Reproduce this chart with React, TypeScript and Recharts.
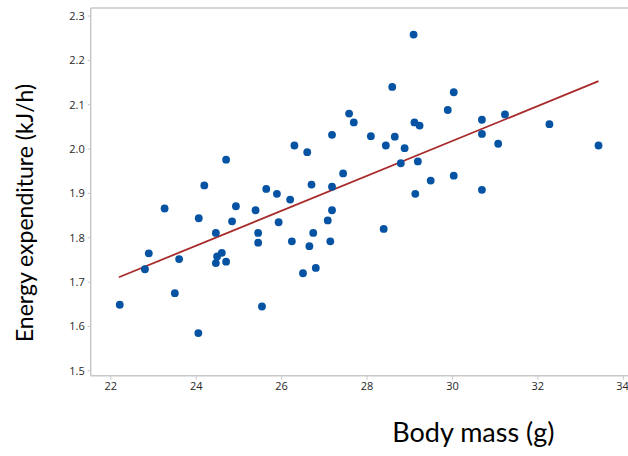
import React from 'react';
import { ScatterChart, Scatter, XAxis, YAxis, ReferenceLine } from 'recharts';

const bodyMass: number[] = [
  22.21, 22.80, 22.89, 23.26, 23.60, 23.50, 24.19, 24.06, 24.05, 24.46,
  24.49, 24.60, 24.46, 24.70, 24.84, 24.93, 24.70, 25.39, 25.45, 25.45,
  25.54, 25.64, 25.89, 25.93, 26.20, 26.24, 26.30, 26.50, 26.60, 26.65,
  26.70, 26.74, 26.80, 27.08, 27.14, 27.18, 27.18, 27.18, 27.44, 27.58,
  27.69, 28.09, 28.39, 28.44, 28.59, 28.65, 28.79, 28.88, 29.09, 29.11,
  29.23, 29.19, 29.13, 29.49, 29.89, 30.03, 30.03, 30.69, 30.69, 30.69,
  31.07, 31.23, 32.27, 33.42,
];
const energy: number[] = [
  1.649, 1.729, 1.765, 1.866, 1.752, 1.675, 1.918, 1.844, 1.585, 1.811,
  1.758, 1.766, 1.743, 1.746, 1.837, 1.871, 1.976, 1.862, 1.811, 1.789,
  1.645, 1.910, 1.899, 1.835, 1.886, 1.792, 2.008, 1.720, 1.993, 1.781,
  1.920, 1.811, 1.732, 1.839, 1.792, 2.032, 1.915, 1.862, 1.945, 2.080,
  2.060, 2.029, 1.820, 2.008, 2.140, 2.028, 1.968, 2.002, 2.258, 2.060,
  2.053, 1.972, 1.899, 1.929, 2.088, 2.128, 1.940, 2.066, 2.034, 1.908,
  2.012, 2.078, 2.056, 2.008,
];
const fitX: number[] = [22.19, 33.42];
const fitY: number[] = [1.711, 2.153];
const xTicks: number[] = [22, 24, 26, 28, 30, 32, 34];
const yTicks: number[] = [1.5, 1.6, 1.7, 1.8, 1.9, 2.0, 2.1, 2.2, 2.3];
const xDomain: [number, number] = [21.53, 34.11];
const yDomain: [number, number] = [1.489, 2.318];

const points = bodyMass.map((x, i) => ({ x, y: energy[i] }));

const AXIS = '#c8c8c8';
const TICK = { fontFamily: 'Open Sans', fontSize: 11, fill: '#262626' };

const Dot = (props: any) => (
  <circle cx={props.cx} cy={props.cy} r={3.9} fill="#0653a3" />
);

export default function App() {
  return (
    <div style={{ position: 'absolute', left: 0, top: 0, width: 628, height: 456 }}>
      <ScatterChart width={628} height={456} margin={{ top: 8, right: 0, bottom: 50.3, left: 0 }}>
        <XAxis
          type="number"
          dataKey="x"
          domain={xDomain}
          ticks={xTicks}
          allowDataOverflow
          height={30}
          tickSize={4}
          tickMargin={2}
          tick={TICK}
          axisLine={{ stroke: AXIS, strokeWidth: 1.5 }}
          tickLine={{ stroke: AXIS }}
          label={{
            value: 'Body mass (g)',
            content: () => (
              <text x={473.4} y={441.5} textAnchor="middle" fontFamily="Lato" fontSize={27} fill="#000">
                Body mass (g)
              </text>
            ),
          }}
        />
        <YAxis
          type="number"
          dataKey="y"
          domain={yDomain}
          ticks={yTicks}
          allowDataOverflow
          width={90.7}
          tickSize={3}
          tickMargin={3}
          tick={TICK}
          tickFormatter={(v: number) => v.toFixed(1)}
          axisLine={{ stroke: AXIS, strokeWidth: 1.5 }}
          tickLine={{ stroke: AXIS }}
          label={{
            value: 'Energy expenditure (kJ/h)',
            content: () => (
              <text
                x={32.5}
                y={213}
                textAnchor="middle"
                fontFamily="Lato"
                fontSize={23}
                fill="#000"
                transform="rotate(-90 32.5 213)"
              >
                Energy expenditure (kJ/h)
              </text>
            ),
          }}
        />
        <ReferenceLine y={yDomain[1]} stroke={AXIS} strokeWidth={1.5} />
        <ReferenceLine
          segment={[
            { x: fitX[0], y: fitY[0] },
            { x: fitX[1], y: fitY[1] },
          ]}
          stroke="#a82a2a"
          strokeWidth={1.8}
        />
        <Scatter data={points} shape={Dot} isAnimationActive={false} />
      </ScatterChart>
    </div>
  );
}
